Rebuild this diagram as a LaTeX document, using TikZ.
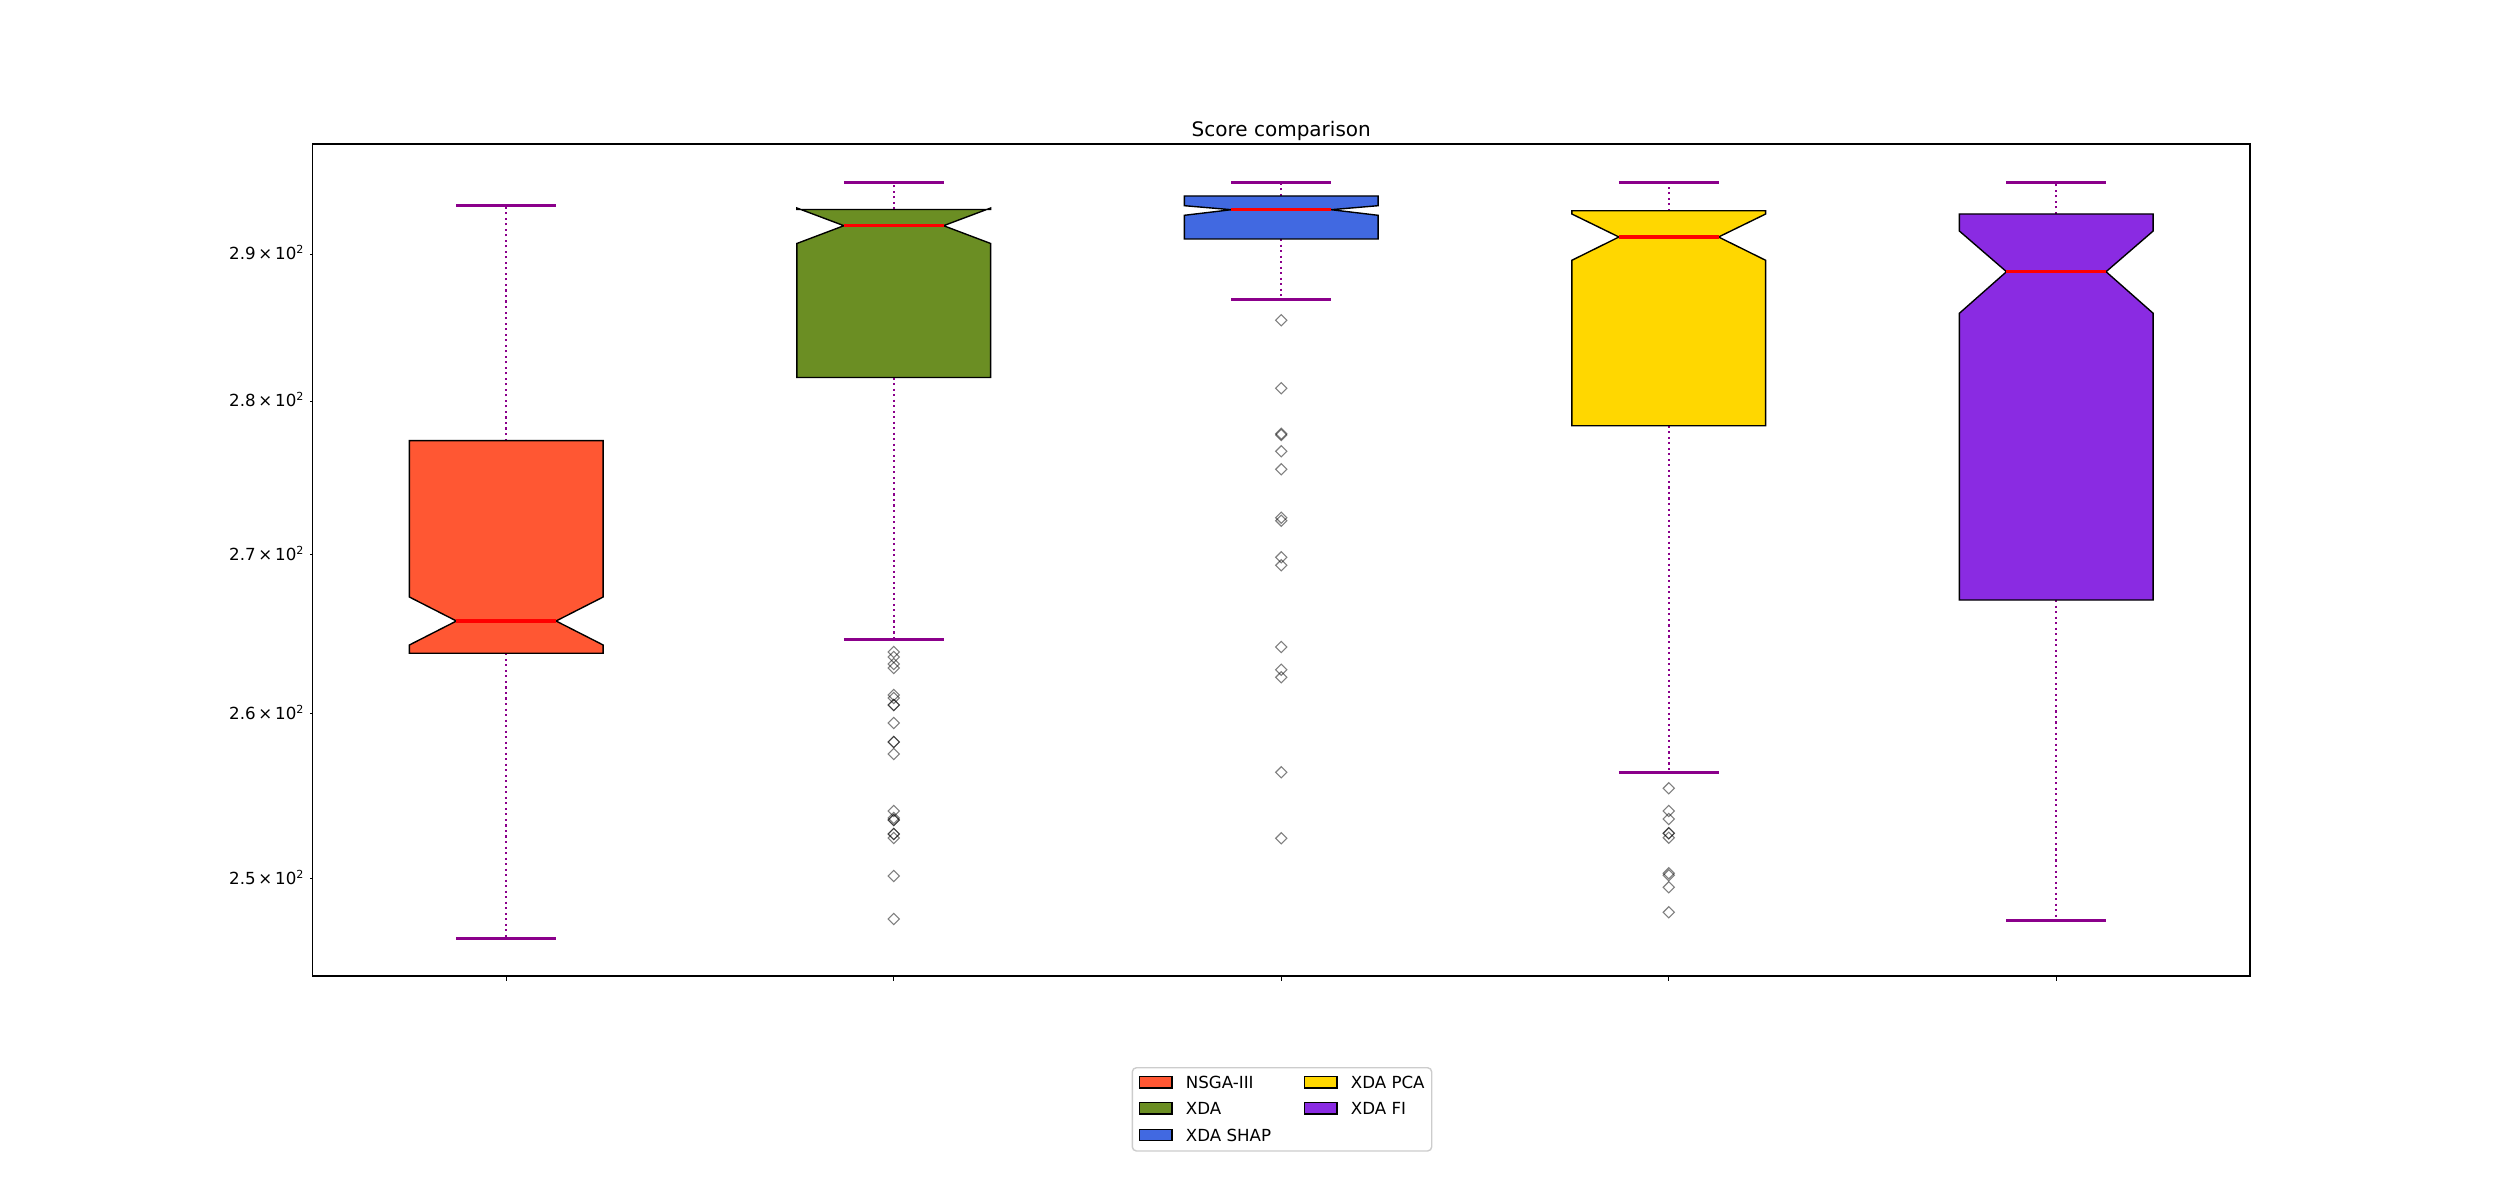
\documentclass[tikz,border=0pt]{standalone}
\usepackage{fontspec}
\setmainfont{DejaVu Sans}
\usetikzlibrary{positioning}

\definecolor{nsgacol}{HTML}{FF5733}
\definecolor{xdacol}{HTML}{6B8E23}
\definecolor{shapcol}{HTML}{4169E1}
\definecolor{pcacol}{HTML}{FFD700}
\definecolor{ficol}{HTML}{8A2BE2}
\definecolor{whiskcol}{HTML}{8B008B}
\definecolor{legedge}{HTML}{CCCCCC}

\tikzset{
    boxedge/.style={draw=black, line width=1pt, line join=miter},
    whisker/.style={draw=whiskcol, line width=1.5pt, dash pattern=on 1.5pt off 2.475pt},
    whiskcap/.style={draw=whiskcol, line width=2pt},
    medline/.style={draw=red, line width=2.4pt},
    outlier/.style={draw=black, draw opacity=0.5, line width=0.8pt},
    ticklabel/.style={font=\fontsize{12}{14}\selectfont, inner sep=0pt},
    titletext/.style={font=\fontsize{14.4}{17}\selectfont, inner sep=0pt},
    legframe/.style={draw=legedge, line width=1pt, rounded corners=3pt, fill=white},
    legpatch/.style={draw=black, line width=1pt, minimum width=23.3pt, minimum height=8pt, inner sep=0pt},
    legtext/.style={font=\fontsize{12}{14}\selectfont, inner sep=0pt},
}

\begin{document}
\begin{tikzpicture}[x=0.72pt, y=-0.72pt]
    \useasboundingbox (0,0) rectangle (2500,1200);
    \coordinate (sw) at (312.5,976);
    \coordinate (ne) at (2250,144);

    \node[titletext, anchor=base] (title) at (1281.25,136.7) {Score comparison};

    % boxes: centre / top cap / Q3 / notch hi / median / notch lo / Q1 / low cap / colour
    \foreach \c/\wt/\qt/\nh/\md/\nl/\qb/\wb/\col in {
        506.25/205.2/440.6/597/621/645/653.3/938.3/nsgacol,
        893.75/182.3/209.5/208/225.7/243.5/377.5/639.5/xdacol,
        1281.25/182.3/196/205.7/209.7/215.3/239/299.3/shapcol,
        1668.75/182.3/210.7/214/237/260.3/425.7/772.3/pcacol,
        2056.25/182.3/214/231/271.7/313.3/600/920.3/ficol} {
        \draw[whisker] (\c,\qt) -- (\c,\wt);
        \draw[whisker] (\c,\qb) -- (\c,\wb);
        \draw[whiskcap] (\c-49.8,\wt) -- (\c+49.8,\wt);
        \draw[whiskcap] (\c-49.8,\wb) -- (\c+49.8,\wb);
        \filldraw[boxedge, fill=\col] (\c-96.9,\qb) -- (\c-96.9,\nl) -- (\c-49.8,\md) -- (\c-96.9,\nh)
            -- (\c-96.9,\qt) -- (\c+96.9,\qt) -- (\c+96.9,\nh) -- (\c+49.8,\md) -- (\c+96.9,\nl)
            -- (\c+96.9,\qb) -- cycle;
        \draw[medline] (\c-49.8,\md) -- (\c+49.8,\md);
        \draw[line width=0.8pt] (\c,976) -- ++(0,4.9);
    }

    % fliers
    \foreach \c/\flist in {
        893.75/{652,657,664,668,695,698,705,705,723,742,742,754,811,818,820,820,834,834,838,876,919},
        1281.25/{320.3,388.3,433.7,435,451.3,469.3,517.7,520.7,557.3,565.3,647,669.7,677.3,772.3,838.3},
        1668.75/{788.3,811,819,833.3,833.3,837.7,873.3,875.3,887.3,912.3}} {
        \foreach \yy in \flist {
            \draw[outlier] (\c,\yy-5.6) -- (\c+5.6,\yy) -- (\c,\yy+5.6) -- (\c-5.6,\yy) -- cycle;
        }
    }

    \draw[line width=0.8pt] (sw) rectangle (ne);

    \foreach \v/\yy [count=\i] in {2.9/254, 2.8/401, 2.7/554.3, 2.6/713.3, 2.5/878.3} {
        \draw[line width=0.6pt] (312.5,\yy) -- ++(-2.8,0);
        \node[ticklabel, anchor=base east] (ylab\i) at (304.5,\yy+6) {\v\,×\,10\textsuperscript{2}};
    }

    % legend
    \draw[legframe] (1132.3,1067.7) rectangle (1431.7,1151);
    \foreach \name/\col/\xx/\yy [count=\i] in {
        NSGA-III/nsgacol/1155.8/1082.3, XDA/xdacol/1155.8/1108.3, XDA SHAP/shapcol/1155.8/1135,
        XDA PCA/pcacol/1320.8/1082.3, XDA FI/ficol/1320.8/1108.3} {
        \node[legpatch, fill=\col] (patch\i) at (\xx,\yy) {};
        \node[legtext, right=9.3pt of patch\i] (label\i) {\name};
    }
\end{tikzpicture}
\end{document}
